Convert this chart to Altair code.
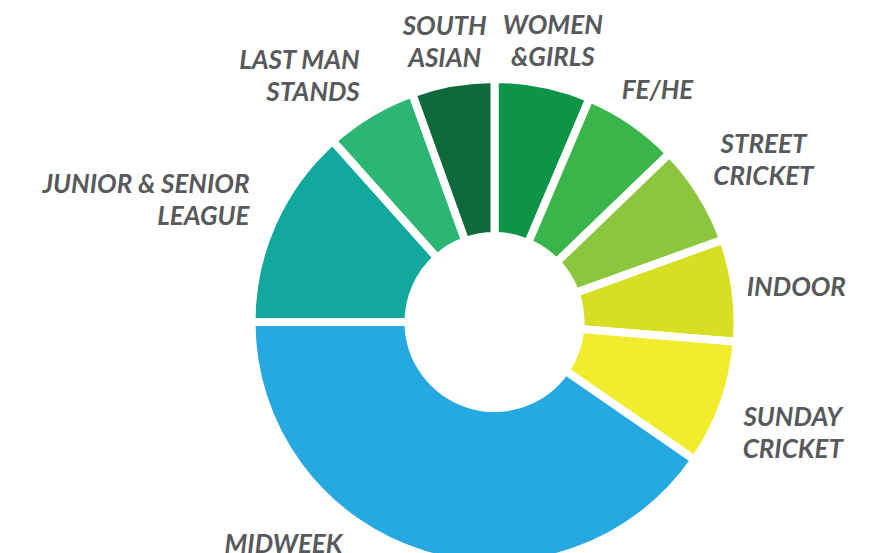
import altair as alt
import pandas as pd

labels = ["WOMEN\n&GIRLS", "FE/HE", "STREET\nCRICKET", "INDOOR", "SUNDAY\nCRICKET",
          "MIDWEEK", "JUNIOR & SENIOR\nLEAGUE", "LAST MAN\nSTANDS", "SOUTH\nASIAN"]
values = [6.4, 6.4, 6.7, 6.8, 8.3, 40.4, 13.4, 6.1, 5.5]
colors = ["#0E9447", "#3AB54A", "#8CC63F", "#D7DF23", "#F2EC2F",
          "#25A9E0", "#13A89E", "#2BB673", "#0F6A39"]

df = pd.DataFrame({"label": labels, "value": values, "idx": list(range(len(labels)))})

CX, CY = 486.5, 314

arcs = alt.Chart(df).mark_arc(outerRadius=243, innerRadius=86, stroke="white", strokeWidth=8).encode(
    theta=alt.Theta("value:Q", stack=True),
    order=alt.Order("idx:Q"),
    x=alt.value(CX),
    y=alt.value(CY),
    color=alt.Color("label:N", scale=alt.Scale(domain=labels, range=colors), legend=None),
)

lab = (
    alt.Chart(df)
    .transform_joinaggregate(total="sum(value)")
    .transform_window(cum="sum(value)", sort=[alt.SortField("idx")], frame=[None, 0])
    .transform_calculate(
        mid="(datum.cum - datum.value/2)/datum.total*2*PI",
        nlines="length(split(datum.label, '\\n'))",
        maxlen="max(length(split(datum.label, '\\n')[0]), length(peek(split(datum.label, '\\n'))))",
    )
    .transform_calculate(
        side="datum.label == 'MIDWEEK' ? 'M' : (sin(datum.mid) < -0.4 ? 'L' : 'C')",
        r="datum.side == 'L' ? 275 : 258 + 7.6*datum.maxlen*abs(sin(datum.mid)) + (9.5 + 16*(datum.nlines-1))*abs(cos(datum.mid))",
    )
    .transform_calculate(
        px=f"{CX} + datum.r*sin(datum.mid)",
        py=f"{CY} - datum.r*cos(datum.mid) - 16*(datum.nlines-1)",
    )
)

txt_style = dict(font="Lato", fontSize=26, fontWeight="bold", fontStyle="italic",
                 color="#58595B", lineBreak="\n", lineHeight=32, baseline="middle")

enc = dict(
    x=alt.X("px:Q", scale=None, axis=None),
    y=alt.Y("py:Q", scale=None, axis=None),
    text=alt.Text("label:N"),
)

labels_c = lab.transform_filter("datum.side == 'C'").mark_text(dy=6, align="center", **txt_style).encode(**enc)
labels_l = lab.transform_filter("datum.side == 'L'").mark_text(dx=6, dy=-9, align="right", **txt_style).encode(**enc)
labels_m = lab.transform_filter("datum.side == 'M'").mark_text(dx=-127, dy=-47, align="center", **txt_style).encode(**enc)

chart = (
    alt.layer(arcs, labels_c, labels_l, labels_m)
    .properties(width=860, height=545, padding=0, autosize=alt.AutoSizeParams(type="none"))
    .configure_view(strokeWidth=0)
)

chart.save("out.html", embed_options={"renderer": "svg", "actions": False})
